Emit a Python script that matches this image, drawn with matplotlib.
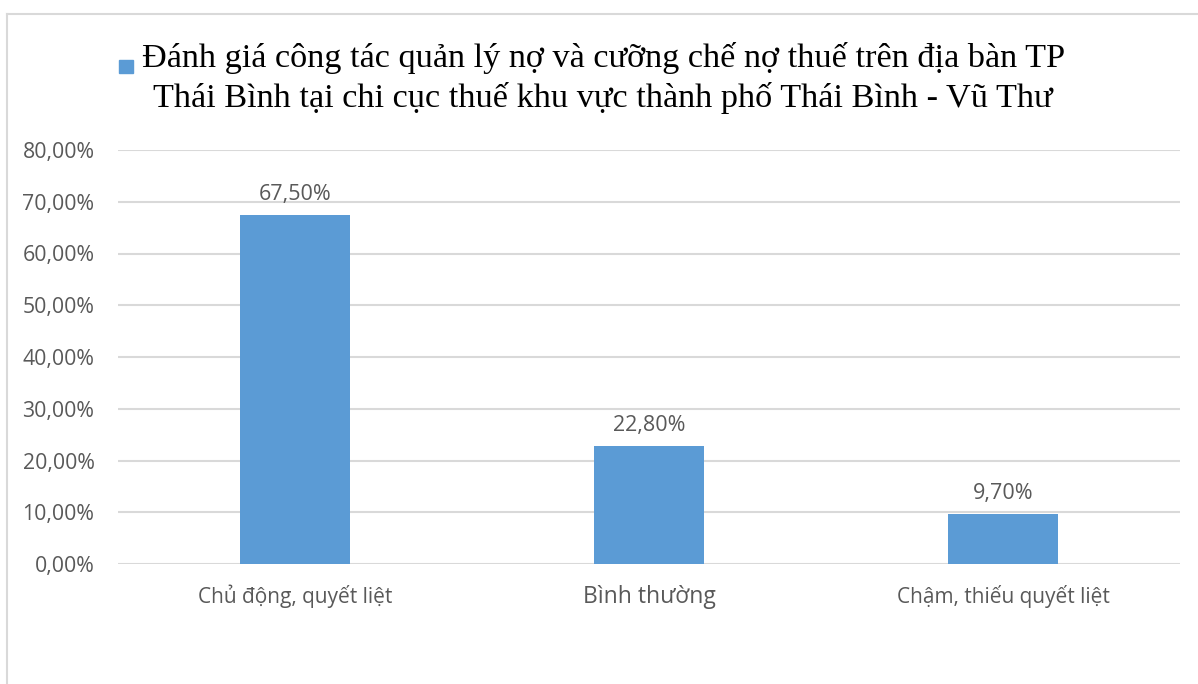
import matplotlib.pyplot as plt
from matplotlib.lines import Line2D
from matplotlib.patches import Rectangle

# Data
categories = ['Chủ động, quyết liệt', 'Bình thường', 'Chậm, thiếu quyết liệt']
values = [0.675, 0.228, 0.097]
yticks = [0, 0.1, 0.2, 0.3, 0.4, 0.5, 0.6, 0.7, 0.8]
title_lines = ['Đánh giá công tác quản lý nợ và cưỡng chế nợ thuế trên địa bàn TP',
               'Thái Bình tại chi cục thuế khu vực thành phố Thái Bình - Vũ Thư']

bar_color = '#5B9BD5'
grid_color = '#D9D9D9'
text_color = '#595959'

W, H = 1198, 684
fig = plt.figure(figsize=(W / 100, H / 100), dpi=100)
ax = fig.add_axes([118 / W, 1 - 564 / H, (1180 - 118) / W, (564 - 150) / H])

x = range(len(categories))
ax.bar(x, values, width=0.31, color=bar_color, zorder=3)
ax.set_xlim(-0.5, len(categories) - 0.5)
ax.set_ylim(0, 0.8)

# percent labels with comma decimal
def pct(v):
    return f'{v * 100:.2f}%'.replace('.', ',')

ax.set_yticks(yticks)
ax.set_yticklabels([pct(t) for t in yticks], fontsize=15.3, color=text_color, family='Open Sans')
ax.set_xticks(list(x))
ax.set_xticklabels(categories, fontsize=15, color=text_color, family='Open Sans')
ax.get_xticklabels()[1].set_fontsize(16.5)
ax.tick_params(axis='both', length=0)
ax.tick_params(axis='y', pad=17)
ax.tick_params(axis='x', pad=15)

ax.yaxis.grid(True, color=grid_color, linewidth=1.5, zorder=0)
for s in ax.spines.values():
    s.set_visible(False)

for xi, v in zip(x, values):
    ax.annotate(pct(v), (xi, v), xytext=(0, 7), textcoords='offset points',
                ha='center', va='bottom', fontsize=15.5, color=text_color, family='Open Sans')

# title with legend square
fig.text(604 / W, 1 - 67 / H, title_lines[0], ha='center', va='baseline',
         fontsize=24.7, family='Liberation Serif', color='black')
fig.text(603 / W, 1 - 107 / H, title_lines[1], ha='center', va='baseline',
         fontsize=24.7, family='Liberation Serif', color='black')
fig.patches.append(Rectangle((119 / W, 1 - 73 / H), 14 / W, 13 / H,
                             transform=fig.transFigure, color=bar_color))

# chart frame
fig.lines.append(Line2D([7 / W, 7 / W], [0, 1 - 14 / H], transform=fig.transFigure,
                        color=grid_color, linewidth=1.5))
fig.lines.append(Line2D([7 / W, 1], [1 - 14 / H, 1 - 14 / H], transform=fig.transFigure,
                        color=grid_color, linewidth=1.5))

fig.savefig('out.png', dpi=100)
